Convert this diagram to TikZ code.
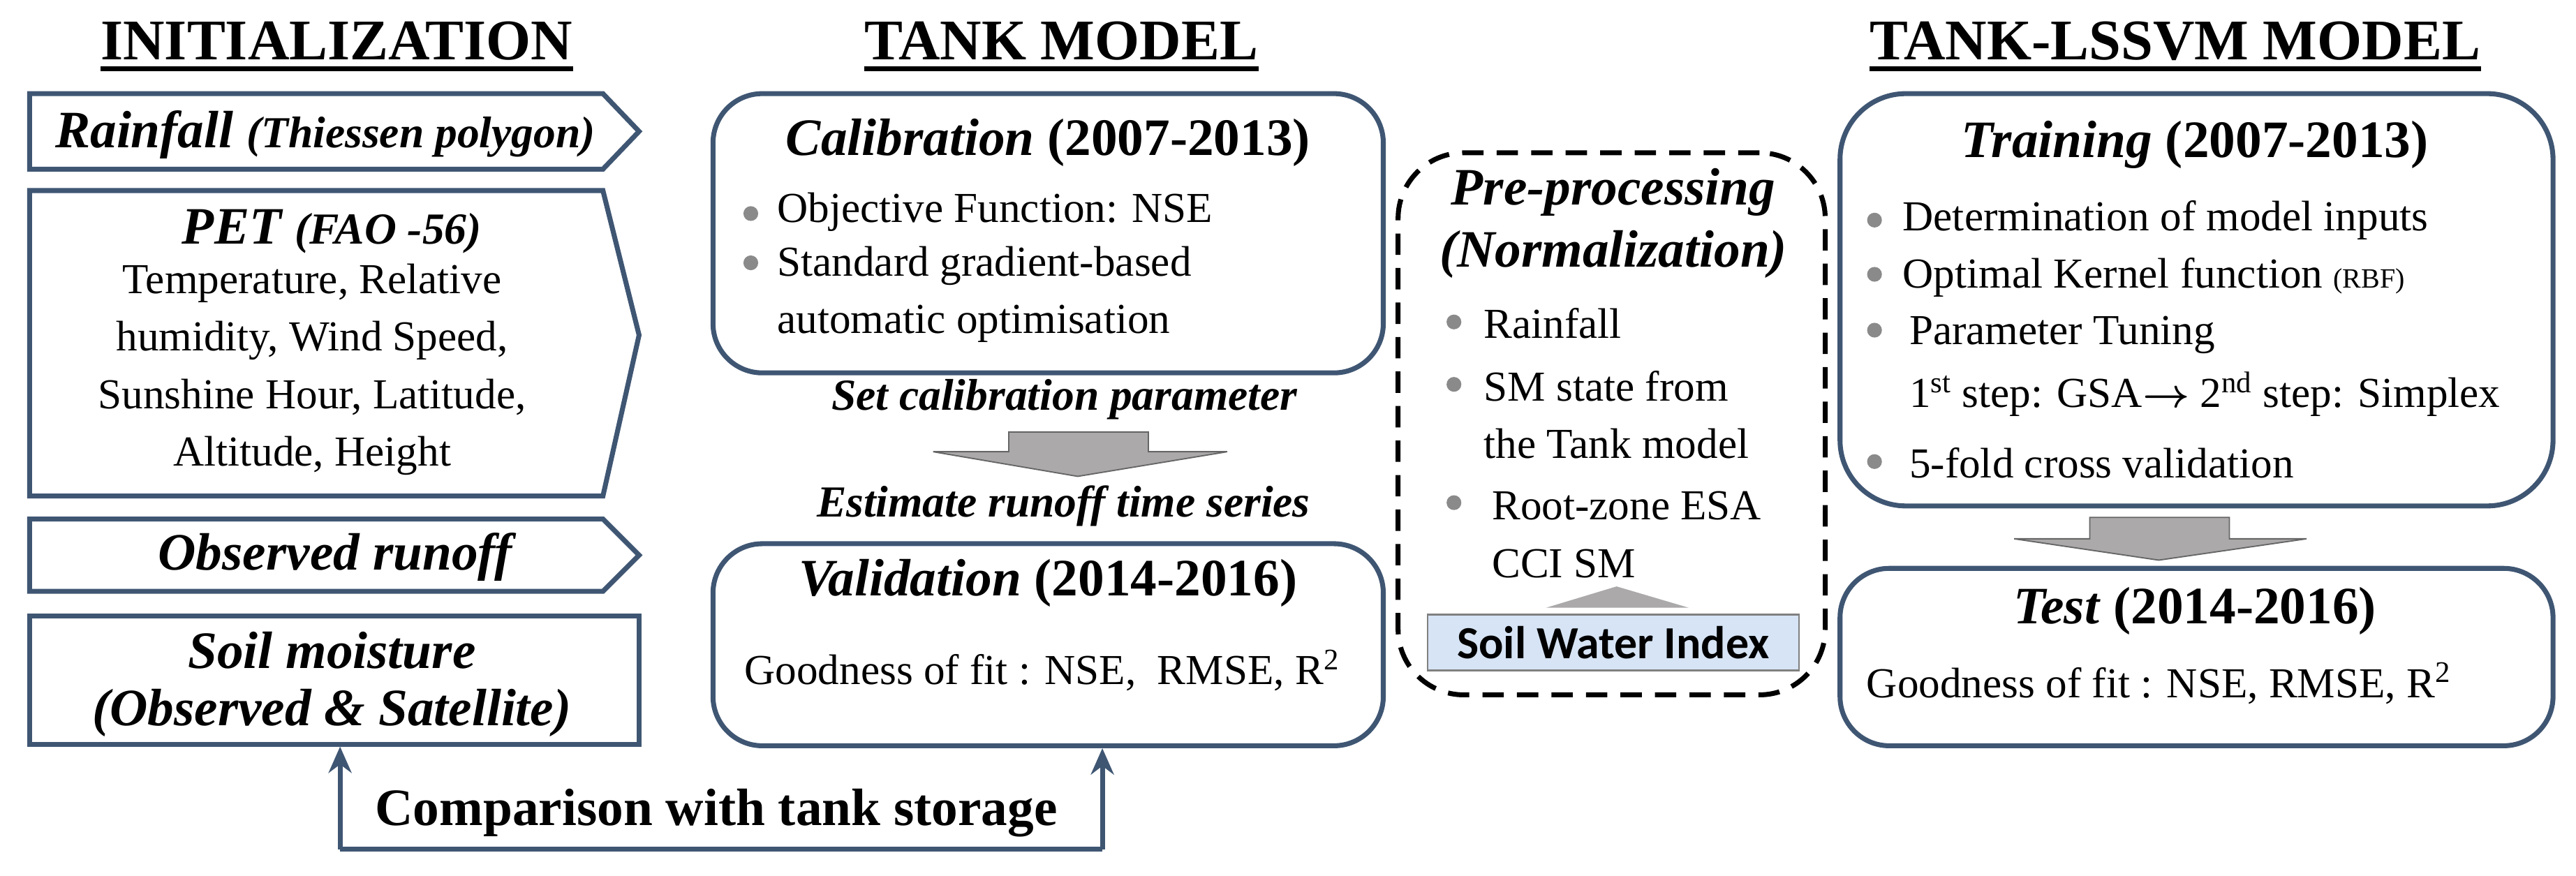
\documentclass[tikz,border=0pt]{standalone}
\usepackage{fontspec}
\usepackage{amsmath,amssymb}
\setmainfont{Liberation Serif}
\newfontfamily\swifont{Carlito}
\usetikzlibrary{arrows.meta}
\definecolor{bord}{HTML}{3F5673}
\definecolor{garr}{HTML}{ABA9A9}
\definecolor{swi}{HTML}{D6E4F5}
\definecolor{bul}{HTML}{8A8A8A}
\tikzset{
  x=1pt,y=-1pt,
  frame/.style={draw=bord,line width=3pt},
  rbox/.style={draw=bord,line width=3pt,rounded corners=30pt,rectangle,inner sep=0pt},
  head/.style={font=\fontsize{35}{35}\selectfont\bfseries,inner sep=0pt},
  ttl/.style={font=\fontsize{32}{32}\selectfont\bfseries,inner sep=0pt},
  inp/.style={font=\fontsize{32}{32}\selectfont\bfseries\itshape,inner sep=0pt},
  body/.style={font=\fontsize{26}{26}\selectfont,inner sep=0pt,anchor=west},
  sub/.style={font=\fontsize{27}{27}\selectfont\bfseries\itshape,inner sep=0pt},
  bl/.style={circle,fill=bul,inner sep=0pt,minimum size=9pt},
  grayarrow/.style={fill=garr,draw=black!60,line width=0.8pt},
  conn/.style={draw=bord,line width=3pt},
}
\begin{document}
\begin{tikzpicture}
\useasboundingbox (0,0) rectangle (1568,533);
% headings
\node[head] (h1) at (205,25) {INITIALIZATION};
\node[head] (h2) at (646,25) {TANK MODEL};
\node[head] (h3) at (1324,25) {TANK-LSSVM MODEL};
\foreach \h in {h1,h2,h3}{\draw[line width=3pt] ([yshift=-5pt]\h.south west) -- ([yshift=-5pt]\h.south east);}
% initialization inputs
\draw[frame] (18,57) -- (367,57) -- (389,80) -- (367,103) -- (18,103) -- cycle;
\node[inp] (rain) at (198,82) {Rainfall {\fontsize{27}{27}\selectfont(Thiessen polygon)}};
\draw[frame] (18,116) -- (367,116) -- (389,204) -- (367,302) -- (18,302) -- cycle;
\node[inp] (pet) at (202,141) {PET {\fontsize{27}{27}\selectfont(FAO -56)}};
\node[align=center,inner sep=0pt,font=\fontsize{26}{35}\selectfont] (petx) at (190,225) {Temperature, Relative\\humidity, Wind Speed,\\Sunshine Hour, Latitude,\\Altitude, Height};
\draw[frame] (18,316) -- (367,316) -- (389,338) -- (367,360) -- (18,360) -- cycle;
\node[inp] (obs) at (204,339) {Observed runoff};
\node[frame,rectangle,minimum width=371pt,minimum height=78pt,inner sep=0pt] (soil) at (203.5,414) {};
\node[inp] (soil1) at (202,396) {Soil moisture};
\node[inp] (soil2) at (202,434) {(Observed \& Satellite)};
% tank model
\node[rbox,minimum width=408pt,minimum height=170pt] (cal) at (638,142) {};
\node[ttl] (calt) at (638,87) {\textit{Calibration} (2007-2013)};
\node[bl] (b1) at (457,130) {};
\node[body] (c1) at (473,129) {Objective Function: NSE};
\node[bl] (b2) at (457,160) {};
\node[body] (c2) at (473,162) {Standard gradient-based};
\node[body] (c3) at (473,197) {automatic optimisation};
\node[sub,anchor=west] (setc) at (506,243) {Set calibration parameter};
\draw[grayarrow] (614,263) -- (699,263) -- (699,275) -- (747,275) -- (656,290) -- (568,275) -- (614,275) -- cycle;
\node[sub,anchor=west] (est) at (497,308) {Estimate runoff time series};
\node[rbox,minimum width=408pt,minimum height=123pt] (val) at (638,392.5) {};
\node[ttl] (valt) at (638,355) {\textit{Validation} (2014-2016)};
\node[body] (v1) at (453,408) {Goodness of fit : NSE,\ \ RMSE, R\textsuperscript{2}};
% comparison connector
\coordinate (k1) at (207,517);
\coordinate (k2) at (671,517);
\draw[conn,-{Stealth[length=16pt,width=14pt]}] (k1) -- (soil.south -| k1);
\draw[conn] (k1) -- (k2);
\draw[conn,-{Stealth[length=16pt,width=14pt]}] (k2) -- (val.south -| k2);
\node[ttl] (cmp) at (436,495) {Comparison with tank storage};
% preprocessing
\node[draw,dash pattern=on 13pt off 8pt,line width=3pt,rounded corners=40pt,minimum width=260pt,minimum height=330pt,inner sep=0pt] (pre) at (981,258) {};
\node[inp,align=center,font=\fontsize{32}{38}\selectfont\bfseries\itshape] (pret) at (982,136) {Pre-processing\\(Normalization)};
\node[bl] (p1) at (885,196) {};
\node[body] (pp1) at (903,197) {Rainfall};
\node[bl] (p2) at (885,234) {};
\node[body] (pp2) at (903,235) {SM state from};
\node[body] (pp3) at (903,270) {the Tank model};
\node[bl] (p3) at (885,306) {};
\node[body] (pp4) at (908,308) {Root-zone ESA};
\node[body] (pp5) at (908,343) {CCI SM};
\node[draw=gray,fill=swi,line width=1.2pt,minimum width=226pt,minimum height=34pt,inner sep=0pt,font=\swifont\fontsize{28}{28}\selectfont\bfseries] (swi) at (982,391) {Soil Water Index};
\fill[garr] (941,370) -- (984,357) -- (1028,370) -- cycle;
% training
\node[rbox,rounded corners=40pt,minimum width=434pt,minimum height=251pt] (tr) at (1337,182.5) {};
\node[ttl] (trt) at (1336,88) {\textit{Training} (2007-2013)};
\node[bl] (t1) at (1141,134) {};
\node[body] (tt1) at (1158,134) {Determination of model inputs};
\node[bl] (t2) at (1141,167) {};
\node[body] (tt2) at (1158,169) {Optimal Kernel function {\fontsize{17}{17}\selectfont(RBF)}};
\node[bl] (t3) at (1141,201) {};
\node[body] (tt3) at (1162,204) {Parameter Tuning};
\node[body] (tt4) at (1162,240) {1\textsuperscript{st} step: GSA$\boldsymbol{\rightarrow}$ 2\textsuperscript{nd} step: Simplex};
\node[bl] (t4) at (1141,281) {};
\node[body] (tt5) at (1162,282) {5-fold cross validation};
\draw[grayarrow] (1272,315) -- (1357,315) -- (1357,328) -- (1404,328) -- (1314,341) -- (1226,328) -- (1272,328) -- cycle;
\node[rbox,minimum width=434pt,minimum height=108pt] (test) at (1337,400) {};
\node[ttl] (tst) at (1336,372) {\textit{Test} (2014-2016)};
\node[body] (te1) at (1136,416) {Goodness of fit : NSE, RMSE, R\textsuperscript{2}};
\end{tikzpicture}
\end{document}
